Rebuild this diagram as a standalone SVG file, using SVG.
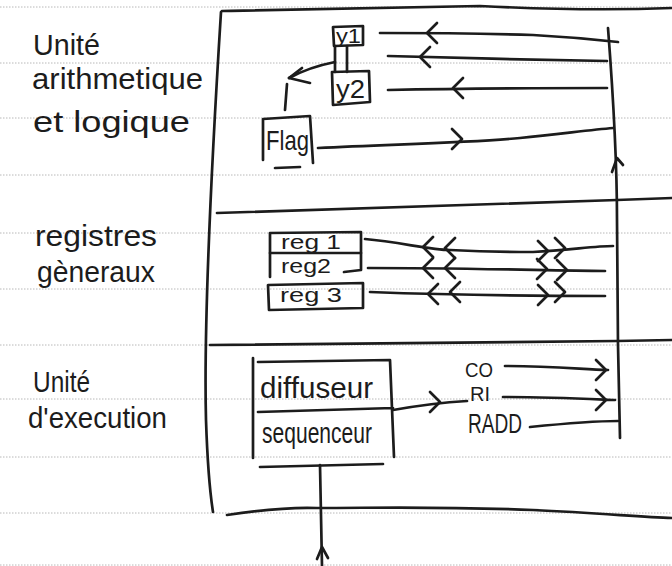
<svg xmlns="http://www.w3.org/2000/svg" width="672" height="566" viewBox="0 0 672 566">
<defs>
<style>
.paper{stroke:#b8b8b8;stroke-width:1;stroke-dasharray:1.5 1.5;fill:none}
.ink{stroke:#1c1c1c;stroke-width:2.7;fill:none;stroke-linecap:round;stroke-linejoin:round}
.lbl{font-family:"Liberation Sans","DejaVu Sans",sans-serif;fill:#1c1c1c}
.big{font-size:29px}
.mid{font-size:29px}
.sm{font-size:20px}
</style>
<path id="lt" d="M10,-10 L0,0 L10,10"/>
<path id="gt" d="M-10,-10 L0,0 L-10,10"/>
</defs>
<rect width="672" height="566" fill="#ffffff"/>
<g id="paper">
<path class="paper" d="M0,7H672M0,63H672M0,118H672M0,175H672M0,233H672M0,289H672M0,345H672M0,399H672M0,457H672M0,513H672M0,565H672"/>
</g>
<g id="frame" class="ink">
<path d="M222,11 C330,9 440,7 480,6 C560,10 620,10 672,8"/>
<path d="M221,12 Q203,300 206,420 Q208,480 213,512"/>
<path d="M227,515 C260,510 290,507 317,508 C380,508 430,506 533,510 C600,513 640,517 672,518"/>
<path d="M217,213 C300,210 400,207 617,200 L672,198"/>
<path d="M210,345 C300,343 433,342 617,341 L672,340"/>
<path d="M608,28 C612,80 617,160 617,220 L618,345 L620,438"/>
<path d="M612,172 L617,158 L623,165"/>
</g>
<g id="labels" class="lbl big">
<text x="33" y="55" textLength="67" lengthAdjust="spacingAndGlyphs">Unité</text>
<text x="32" y="89" textLength="171" lengthAdjust="spacingAndGlyphs">arithmetique</text>
<text x="33" y="132" textLength="157" lengthAdjust="spacingAndGlyphs">et logique</text>
<text x="35" y="246" textLength="122" lengthAdjust="spacingAndGlyphs">registres</text>
<text x="37" y="282" textLength="118" lengthAdjust="spacingAndGlyphs">gèneraux</text>
<text x="33" y="392" textLength="57" lengthAdjust="spacingAndGlyphs">Unité</text>
<text x="28" y="428" textLength="139" lengthAdjust="spacingAndGlyphs">d'execution</text>
</g>
<g id="y1">
<path class="ink" d="M333,27 L363,26 L363,45 L334,46 Z"/>
<text class="lbl" x="336" y="43" font-size="20" textLength="25" lengthAdjust="spacingAndGlyphs">y1</text>
</g>
<g id="y2">
<path class="ink" d="M332,72 L369,71 L370,102 L333,105 Z"/>
<text class="lbl" x="336" y="98" font-size="26" textLength="29" lengthAdjust="spacingAndGlyphs">y2</text>
</g>
<g id="flag">
<path class="ink" d="M263,160 L263,119 L310,116 L313,163 M275,168 L300,167"/>
<text class="lbl" x="266" y="150" font-size="28" textLength="43" lengthAdjust="spacingAndGlyphs">Flag</text>
</g>
<g id="reg1">
<path class="ink" d="M270,233 L361,232 L361,253 L270,253 Z"/>
<text class="lbl sm" x="281" y="249" textLength="60" lengthAdjust="spacingAndGlyphs">reg 1</text>
</g>
<g id="reg2">
<path class="ink" d="M270,253 L270,277 M361,253 L361,270 L344,272"/>
<text class="lbl sm" x="281" y="273" textLength="50" lengthAdjust="spacingAndGlyphs">reg2</text>
</g>
<g id="reg3">
<path class="ink" d="M268,285 L363,283 L363,308 L269,310 Z"/>
<text class="lbl sm" x="280" y="302" textLength="62" lengthAdjust="spacingAndGlyphs">reg 3</text>
</g>
<g id="exec">
<path class="ink" d="M253,358 L253,458 M258,362 L390,360 L394,457 M258,412 L393,408 M260,467 L383,464"/>
<text class="lbl mid" x="260" y="398" textLength="113" lengthAdjust="spacingAndGlyphs">diffuseur</text>
<text class="lbl mid" x="262" y="443" textLength="110" lengthAdjust="spacingAndGlyphs">sequenceur</text>
</g>
<g id="signals" class="lbl">
<text x="465" y="377" font-size="21" textLength="28" lengthAdjust="spacingAndGlyphs">CO</text>
<text x="470" y="401" font-size="20" textLength="20" lengthAdjust="spacingAndGlyphs">RI</text>
<text x="468" y="433" font-size="27" textLength="54" lengthAdjust="spacingAndGlyphs">RADD</text>
</g>
<g id="connectors" class="ink">
<path d="M380,33 C450,33 500,34 533,35 C570,37 600,40 618,42"/>
<use href="#lt" x="427" y="33"/>
<path d="M388,56 C450,58 550,60 607,61"/>
<use href="#lt" x="420" y="57"/>
<path d="M388,90 C480,88 560,88 607,88"/>
<use href="#lt" x="453" y="88"/>
<path d="M318,148 C400,144 467,143 520,138 C560,134 590,130 613,128"/>
<use href="#gt" x="462" y="139"/>
<path d="M335,62 C315,66 300,72 289,78"/>
<path d="M302,68 L289,78 L310,83"/>
<path d="M287,84 L285,110"/>
<path d="M335,46 L335,72 M347,46 L347,72"/>
<path d="M365,239 C400,242 430,250 450,250 C490,252 520,252 533,252 C570,250 595,246 613,246"/>
<use href="#lt" x="423" y="247"/><use href="#lt" x="445" y="248"/>
<use href="#gt" x="548" y="251"/><use href="#gt" x="565" y="248"/>
<path d="M368,268 C450,268 530,270 605,271"/>
<use href="#lt" x="423" y="268"/><use href="#lt" x="445" y="268"/>
<use href="#gt" x="547" y="269"/><use href="#gt" x="567" y="270"/>
<path d="M370,292 C450,295 530,296 605,296"/>
<use href="#lt" x="428" y="294"/><use href="#lt" x="450" y="292"/>
<use href="#gt" x="548" y="295"/><use href="#gt" x="565" y="292"/>
<path d="M393,410 C410,407 433,403 467,401"/>
<use href="#gt" x="440" y="402"/>
<path d="M505,366 C550,366 580,369 608,370"/>
<use href="#gt" x="606" y="370"/>
<path d="M503,397 C550,397 590,399 615,400"/>
<use href="#gt" x="606" y="400"/>
<path d="M530,427 C560,424 590,421 618,421"/>
<path d="M320,465 L322,566"/>
<path d="M317,559 L322,547 L328,558"/>
</g>
</svg>
